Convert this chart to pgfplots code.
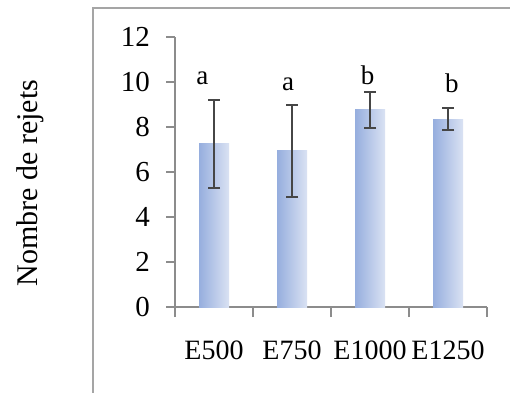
\documentclass[border=0pt]{standalone}
\usepackage{fontspec}
\setmainfont{Liberation Serif}
\usepackage{pgfplots}
\pgfplotsset{compat=1.18}
\definecolor{barL}{RGB}{150,174,222}
\definecolor{barR}{RGB}{218,226,243}
\definecolor{errc}{RGB}{70,70,70}
\definecolor{axc}{RGB}{140,140,140}
\definecolor{framec}{RGB}{165,165,165}
\pgfplotsset{
  mybar/.style={draw=none, left color=barL, right color=barR, bar shift=0pt,
    error bars/.cd, y dir=both, y explicit,
    error bar style={errc, line width=2pt},
    error mark options={errc, line width=2pt, mark size=6pt, rotate=90}}
}
\begin{document}
\fontsize{30pt}{36pt}\selectfont
\begin{tikzpicture}[x=1pt,y=1pt]
\path[use as bounding box] (0,0) rectangle (510,392);
\begin{scope}
\clip (0,0) rectangle (510,392);
\draw[framec, line width=2pt] (93,-5) -- (93,384) -- (520,384);
\end{scope}
\node[rotate=90] at (30,209) {Nombre de rejets};
\begin{axis}[
  at={(175pt,85pt)}, anchor=south west,
  scale only axis, width=312pt, height=270pt,
  xmin=-0.5, xmax=3.5, ymin=0, ymax=12,
  axis x line=bottom, axis y line=left,
  axis line style={axc, line width=1.2pt, -},
  xtick={0,1,2,3},
  xticklabels={E500,E750,E1000,E1250},
  major x tick style={draw=none},
  minor xtick={-0.5,0.5,1.5,2.5,3.5},
  minor tick length=10pt,
  minor x tick style={axc, line width=1.2pt},
  ytick={0,2,4,6,8,10,12},
  major tick length=9pt,
  ytick style={axc, line width=1.2pt},
  tick align=outside,
  /pgf/number format/assume math mode=true,
  xticklabel style={anchor=base, yshift=-43pt, font=\fontsize{28pt}{34pt}\selectfont},
  yticklabel style={xshift=-6pt, font=\fontsize{29pt}{34pt}\selectfont},
  ybar, bar width=30pt,
  clip=false,
]
\addplot[mybar] coordinates {(0,7.25) +- (0,1.95)};
\addplot[mybar] coordinates {(1,6.95) +- (0,2.05)};
\addplot[mybar] coordinates {(2,8.77) +- (0,0.8)};
\addplot[mybar] coordinates {(3,8.35) +- (0,0.49)};
\begin{scope}[every node/.style={anchor=base, font=\fontsize{27pt}{32pt}\selectfont}]
\node at (axis cs:-0.15,9.87) {a};
\node at (axis cs:0.95,9.64) {a};
\node at (axis cs:1.97,9.87) {b};
\node at (axis cs:3.05,9.52) {b};
\end{scope}
\end{axis}
\end{tikzpicture}
\end{document}
